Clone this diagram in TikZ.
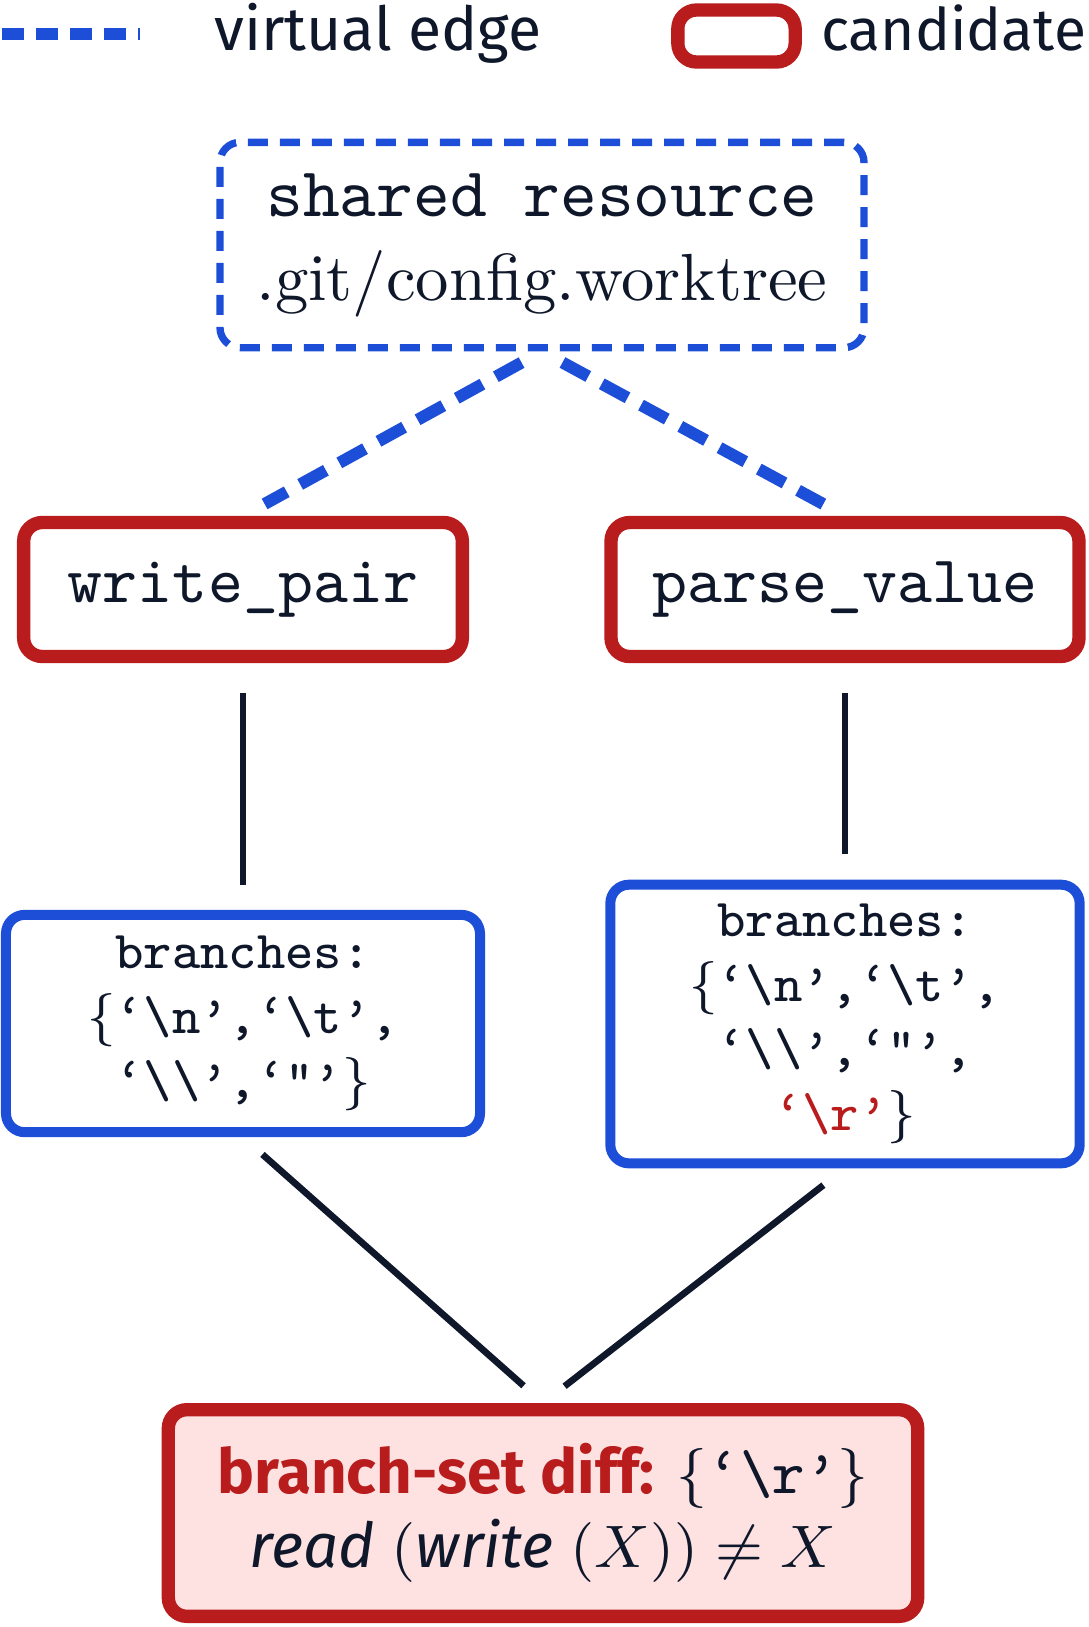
\documentclass[tikz,border=0pt]{standalone}
\usepackage{fontspec}
\setsansfont{Fira Sans}
\usepackage{amsmath}

\definecolor{edgeblue}{HTML}{1D4ED8}
\definecolor{candred}{HTML}{B91C1C}
\definecolor{inkdark}{HTML}{0F172A}
\definecolor{diffpink}{HTML}{FEE2E2}

\newcommand{\escq}[1]{‘\textbackslash #1’}

\begin{document}
\begin{tikzpicture}[x=0.15pt,y=-0.15pt]

      \useasboundingbox (0,0) rectangle (1089,1627);

      % legend
      \coordinate (vkeyl) at (2,34);
      \coordinate (vkeyr) at (140,34);
      \draw[edgeblue,line width=1.7pt,dash pattern=on 3.3pt off 1.8pt] (vkeyl) -- (vkeyr);
      \node[anchor=base west,inner sep=0pt,text=inkdark,font=\sffamily\fontsize{9.1}{11}\selectfont] (vkeylab) at (213,50) {virtual edge};
      \node[draw=candred,line width=2pt,rounded corners=2.8pt,minimum width=17.6pt,minimum height=7.8pt,inner sep=0pt] (ckey) at (736.5,36) {};
      \node[anchor=base west,inner sep=0pt,text=inkdark,font=\sffamily\fontsize{8.8}{11}\selectfont] (ckeylab) at (820,50) {candidate};

      % shared resource
      \node[draw=edgeblue,line width=1.1pt,dash pattern=on 3pt off 1.8pt,rounded corners=3pt,
            minimum width=96.6pt,minimum height=30.8pt,inner sep=0pt,align=center,text=inkdark] (res) at (542,245)
            {\ttfamily\fontsize{10.5}{12.8}\selectfont shared resource\\[0.6pt]
             \rmfamily\fontsize{10}{12}\selectfont .git/config.worktree};

      % candidates
      \begin{scope}[every node/.style={draw=candred,line width=2pt,rounded corners=2.8pt,fill=white,
                    inner sep=0pt,text=inkdark,font=\ttfamily\fontsize{10}{12}\selectfont}]
        \node[minimum width=65.8pt,minimum height=20.1pt] (wpair) at (243,589.5) {write\_pair};
        \node[minimum width=70.2pt,minimum height=20.1pt] (pval)  at (845,589.5) {parse\_value};
      \end{scope}

      % branch sets
      \begin{scope}[every node/.style={draw=edgeblue,line width=1.5pt,rounded corners=2.8pt,fill=white,
                    inner sep=0pt,align=center,text=inkdark,font=\ttfamily\fontsize{8}{9.7}\selectfont}]
        \node[minimum width=71.1pt,minimum height=32.6pt] (wset) at (243,1023.5)
          {branches:\\$\{$\escq{n},\escq{t},\\\escq{\textbackslash},‘"’$\}$};
        \node[minimum width=70.4pt,minimum height=41.8pt] (pset) at (845,1024)
          {branches:\\$\{$\escq{n},\escq{t},\\\escq{\textbackslash},‘"’,\\\textcolor{candred}{\escq{r}}$\}$};
      \end{scope}

      % diff
      \node[draw=candred,line width=2pt,rounded corners=2.8pt,fill=diffpink,inner sep=0pt,
            minimum width=112.4pt,minimum height=31pt,align=center,text=inkdark,
            font=\sffamily\fontsize{9.3}{11.2}\selectfont] (diff) at (543,1513)
            {\textcolor{candred}{\bfseries branch-set diff:} $\{$\texttt{\escq{r}}$\}$\\
             $\textit{read}\;(\textit{write}\;(X))\neq X$};

      \begin{scope}[every edge/.style={draw=edgeblue,line width=1.8pt,dash pattern=on 4.4pt off 2.3pt,
                    shorten <=3.5pt,shorten >=3.7pt}]
        \path (res.south) edge (wpair.north);
        \path (res.south) edge (pval.north);
      \end{scope}

      \begin{scope}[every edge/.style={draw=inkdark,line width=1pt}]
        \path (wpair.south) edge[shorten <=4.5pt,shorten >=3.8pt] (wset.north);
        \path (pval.south)  edge[shorten <=4.5pt,shorten >=3.8pt] (pset.north);
        \path (wset.south)  edge[shorten <=3.9pt,shorten >=3.9pt] (diff.north);
        \path (pset.south)  edge[shorten <=4.1pt,shorten >=4.1pt] (diff.north);
      \end{scope}

    \end{tikzpicture}
\end{document}
